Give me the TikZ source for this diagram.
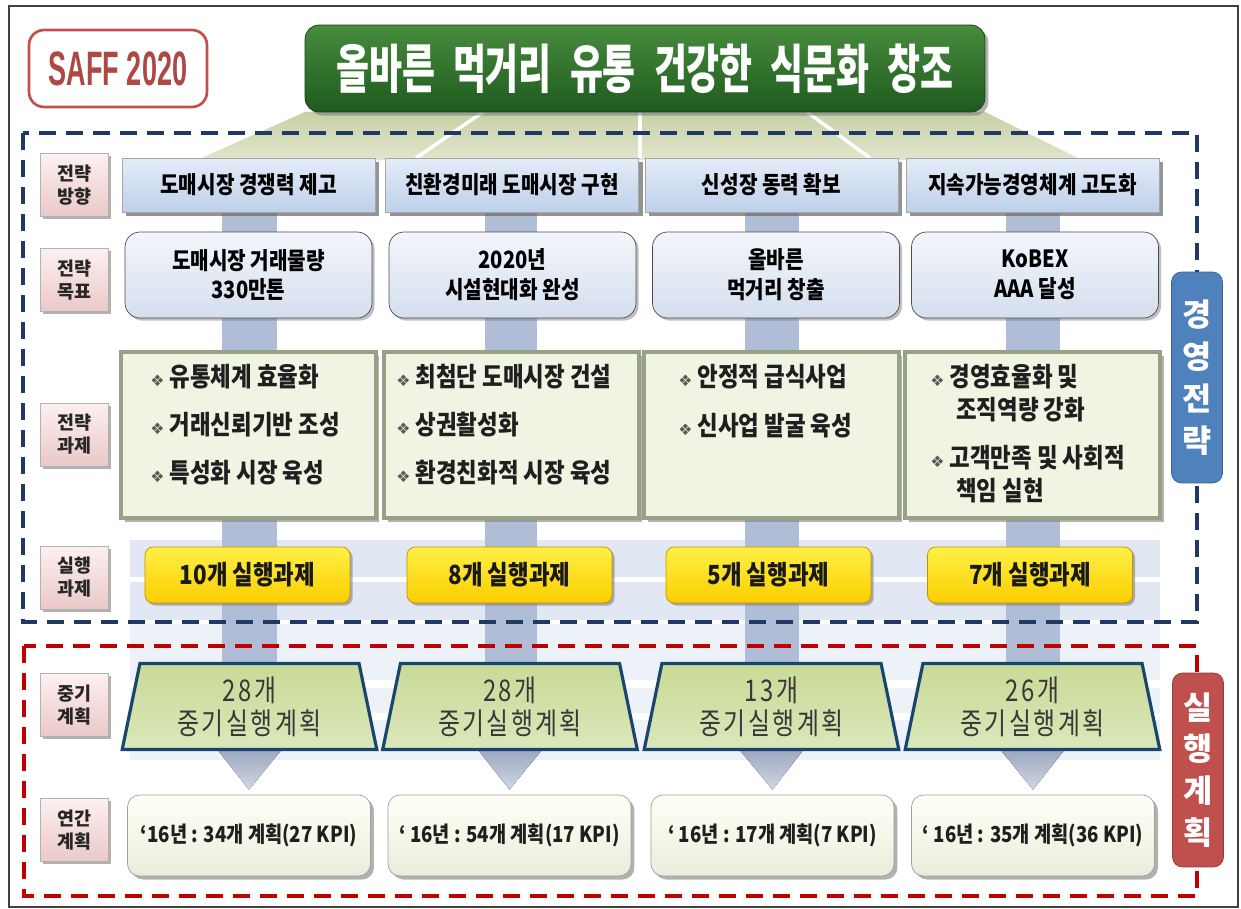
\documentclass[tikz,border=0pt]{standalone}
\usepackage{fontspec}
\usetikzlibrary{shapes.geometric,shadows,backgrounds}

\setmainfont{Noto Sans CJK KR}
\newfontfamily\krplain{Noto Sans CJK KR}
\newfontfamily\krfont{Noto Sans CJK KR}[FakeStretch=0.85]
\newfontfamily\krtitle{Noto Sans CJK KR}[FakeStretch=0.68,WordSpace=2.2]
\newfontfamily\krplan{Noto Sans CJK KR}[FakeStretch=0.8,LetterSpace=8]
\newfontfamily\saffont{Liberation Sans}[FakeStretch=0.56]
\newfontfamily\symfont{DejaVu Sans}
\newcommand{\dia}{{\symfont\fontsize{9}{9}\selectfont\color{black!65}❖}\ }

\definecolor{titlegreen}{RGB}{30,90,30}
\definecolor{titlegreenlt}{RGB}{72,140,62}
\definecolor{saffred}{RGB}{192,80,77}
\definecolor{navydash}{RGB}{31,56,100}
\definecolor{reddash}{RGB}{192,0,0}
\definecolor{fanolive}{RGB}{200,208,165}
\definecolor{fanlight}{RGB}{224,230,204}
\definecolor{headblue}{RGB}{190,208,234}
\definecolor{headbluelt}{RGB}{228,236,247}
\definecolor{goalblue}{RGB}{212,223,238}
\definecolor{goalbluelt}{RGB}{243,246,251}
\definecolor{taskfill}{RGB}{240,244,226}
\definecolor{taskedge}{RGB}{152,160,134}
\definecolor{btnyellow}{RGB}{250,206,0}
\definecolor{btnyellowlt}{RGB}{255,240,70}
\definecolor{btnedge}{RGB}{196,145,0}
\definecolor{planfill}{RGB}{200,218,150}
\definecolor{planedge}{RGB}{25,70,110}
\definecolor{yearfill}{RGB}{255,255,246}
\definecolor{yearfilldk}{RGB}{236,236,220}
\definecolor{labelpink}{RGB}{234,200,200}
\definecolor{labelpinklt}{RGB}{253,240,240}
\definecolor{barblue}{RGB}{176,189,214}
\definecolor{bandblue}{RGB}{225,232,243}
\definecolor{tagblue}{RGB}{79,129,189}
\definecolor{tagred}{RGB}{192,80,77}

\begin{document}
\begin{tikzpicture}[x=0.02cm,y=-0.02cm,
  lbl/.style={draw=gray!60, top color=labelpinklt, bottom color=labelpink, minimum width=1.36cm, minimum height=1.26cm, align=center, inner sep=0pt, text=black!85, font=\krplain\bfseries\fontsize{10.5}{13}\selectfont, drop shadow={shadow xshift=1.5pt, shadow yshift=-1.5pt, fill=gray, opacity=.6}},
  head/.style={draw=gray!70, top color=headbluelt, bottom color=headblue, minimum width=5.06cm, minimum height=1.08cm, inner sep=0pt, font=\krfont\bfseries\fontsize{13.5}{15}\selectfont, drop shadow={shadow xshift=2.5pt, shadow yshift=-2.5pt, fill=black!60, opacity=.7}},
  goal/.style={draw=black!70, rounded corners=0.3cm, top color=goalbluelt, bottom color=goalblue, minimum width=4.94cm, minimum height=1.72cm, align=center, inner sep=0pt, font=\krfont\bfseries\fontsize{13.5}{17}\selectfont, drop shadow={shadow xshift=1.5pt, shadow yshift=-1.5pt, fill=gray, opacity=.5}},
  taskbox/.style={draw=taskedge, line width=2pt, fill=taskfill, minimum width=5.1cm, minimum height=3.32cm, drop shadow={shadow xshift=2pt, shadow yshift=-2pt, fill=gray, opacity=.6}},
  tasktxt/.style={anchor=west, inner sep=0pt, text=black!88, font=\krfont\bfseries\fontsize{15}{17}\selectfont},
  btn/.style={draw=btnedge, rounded corners=0.16cm, top color=btnyellowlt, bottom color=btnyellow, minimum width=4.1cm, minimum height=1.12cm, inner sep=0pt, text=black!90, font=\krfont\bfseries\fontsize{15}{16}\selectfont, drop shadow={shadow xshift=1.5pt, shadow yshift=-1.5pt, fill=gray, opacity=.6}},
  plan/.style={trapezium, trapezium stretches=true, trapezium left angle=79, trapezium right angle=79, draw=planedge, line width=1.8pt, top color=planfill, bottom color=planfill!65!white, minimum width=5.1cm, minimum height=1.72cm, align=center, inner sep=0pt, text=black!78, font=\krplan\fontsize{17}{18.7}\selectfont},
  year/.style={draw=gray!75, rounded corners=0.24cm, top color=yearfill, bottom color=yearfilldk, minimum width=4.86cm, minimum height=1.62cm, inner sep=0pt, text=black!88, font=\krfont\bfseries\fontsize{12.5}{15}\selectfont, drop shadow={shadow xshift=2pt, shadow yshift=-2pt, fill=gray, opacity=.6}},
  tag/.style={rounded corners=0.2cm, minimum width=1.02cm, align=center, inner sep=0pt, text=white, font=\krplain\bfseries\fontsize{18}{23.8}\selectfont},
  bar/.style={fill=barblue},
  tri/.style={top color=barblue!90!black, bottom color=barblue!60!white}]
\useasboundingbox (0,0) rectangle (1241,909);
\draw[black!75, line width=0.8pt] (9,6) rectangle (1238,907);

\draw[navydash, line width=2.2pt, dash pattern=on 0.34cm off 0.2cm] (23,133) rectangle (1197,622);
\draw[reddash, line width=2.2pt, dash pattern=on 0.34cm off 0.2cm] (24,646) rectangle (1197,896);

\node[draw=saffred, line width=1.5pt, rounded corners=0.3cm, fill=white, minimum width=3.56cm, minimum height=1.54cm, text=saffred!90!black, font=\saffont\bfseries\fontsize{27.5}{30}\selectfont] (saff) at (118,68.5) {SAFF 2020};
\node[rounded corners=0.28cm, draw=titlegreen!70!black, top color=titlegreenlt, bottom color=titlegreen, minimum width=13.6cm, minimum height=1.74cm, text=white, font=\krtitle\bfseries\fontsize{30}{32}\selectfont, drop shadow={shadow xshift=2pt, shadow yshift=-2pt, fill=gray, opacity=.6}] (ttl) at (645,68.5) {올바른 먹거리 유통 건강한 식문화 창조};

\node[lbl] (l1) at (74,185) {전략\\방향};
\node[lbl] (l2) at (74,280) {전략\\목표};
\node[lbl] (l3) at (74,434.5) {전략\\과제};
\node[lbl] (l4) at (74,577.5) {실행\\과제};
\node[lbl] (l5) at (74,705) {중기\\계획};
\node[lbl] (l6) at (74,830) {연간\\계획};

\node[head] (h1) at (248.5,185) {도매시장 경쟁력 제고};
\node[head] (h2) at (512,185) {친환경미래 도매시장 구현};
\node[head] (h3) at (771.5,185) {신성장 동력 확보};
\node[head] (h4) at (1032.5,185) {지속가능경영체계 고도화};

\node[goal] (g1) at (248.5,275) {도매시장 거래물량\\330만톤};
\node[goal] (g2) at (512.5,275) {2020년\\시설현대화 완성};
\node[goal] (g3) at (776,275) {올바른\\먹거리 창출};
\node[goal] (g4) at (1035,275) {KoBEX\\AAA 달성};

\node[taskbox] (k1) at (248.5,435) {};
\node[taskbox] (k2) at (511.5,435) {};
\node[taskbox] (k3) at (771.5,435) {};
\node[taskbox] (k4) at (1032.5,435) {};

\node[tasktxt] (t1a) at (150,377) {\dia 유통체계 효율화};
\node[tasktxt] (t1b) at (150,425) {\dia 거래신뢰기반 조성};
\node[tasktxt] (t1c) at (150,473) {\dia 특성화 시장 육성};
\node[tasktxt] (t2a) at (396,377) {\dia 최첨단 도매시장 건설};
\node[tasktxt] (t2b) at (396,425) {\dia 상권활성화};
\node[tasktxt] (t2c) at (396,473) {\dia 환경친화적 시장 육성};
\node[tasktxt] (t3a) at (678,377) {\dia 안정적 급식사업};
\node[tasktxt] (t3b) at (678,426) {\dia 신사업 발굴 육성};
\node[tasktxt] (t4a) at (930,377) {\dia 경영효율화 및};
\node[tasktxt] (t4b) at (956,410) {조직역량 강화};
\node[tasktxt] (t4c) at (930,458) {\dia 고객만족 및 사회적};
\node[tasktxt] (t4d) at (956,491) {책임 실현};

\node[btn] (b1) at (247.5,575) {10개 실행과제};
\node[btn] (b2) at (509.5,575) {8개 실행과제};
\node[btn] (b3) at (768.5,575) {5개 실행과제};
\node[btn] (b4) at (1030,575) {7개 실행과제};

\node[plan] (m1) at (249.5,706.5) {28개\\중기실행계획};
\node[plan] (m2) at (510,706.5) {28개\\중기실행계획};
\node[plan] (m3) at (771.5,706.5) {13개\\중기실행계획};
\node[plan] (m4) at (1032.5,706.5) {26개\\중기실행계획};

\node[year] (y1) at (249,835.5) {‘16년 : 34개 계획(27 KPI)};
\node[year] (y2) at (509.5,835.5) {‘ 16년 : 54개 계획(17 KPI)};
\node[year] (y3) at (772.5,835.5) {‘ 16년 : 17개 계획(7 KPI)};
\node[year] (y4) at (1033,835.5) {‘ 16년 : 35개 계획(36 KPI)};

\node[tag, fill=tagblue, draw=tagblue!75!black, minimum height=4.22cm] (strat) at (1197,377.5) {경\\영\\전\\략};
\node[tag, fill=tagred, draw=tagred!75!black, minimum height=3.88cm] (exec) at (1198,770) {실\\행\\계\\획};

\begin{scope}[on background layer]
\fill[white] (0,0) rectangle (1241,909);
\shade[top color=fanolive, bottom color=fanlight] (305,112) -- (985,112) -- (1082,160) -- (197,160) -- cycle;
\draw[white, line width=2pt] (483,112) -- (416,158);
\draw[white, line width=2pt] (640,112) -- (640,158);
\draw[white, line width=2pt] (807,112) -- (870,158);
\fill[bandblue] (130,540) rectangle (1160,620);
\fill[white] (130,577) rectangle (1160,582);
\fill[bandblue!60] (130,624) rectangle (1160,760);
\fill[white] (130,680) rectangle (1160,688);
\fill[white] (130,713) rectangle (1160,720);
\fill[bar] ([xshift=-0.54cm]h1.south) rectangle ([xshift=0.54cm]m1.north);
\fill[bar] ([xshift=-0.54cm]h2.south) rectangle ([xshift=0.54cm]m2.north);
\fill[bar] ([xshift=-0.54cm]h3.south) rectangle ([xshift=0.54cm]m3.north);
\fill[bar] ([xshift=-0.54cm]h4.south) rectangle ([xshift=0.54cm]m4.north);
\fill[tri] ([xshift=-0.62cm]m1.south) -- ([xshift=0.62cm]m1.south) -- ([yshift=0.1cm]y1.north) -- cycle;
\fill[tri] ([xshift=-0.62cm]m2.south) -- ([xshift=0.62cm]m2.south) -- ([yshift=0.1cm]y2.north) -- cycle;
\fill[tri] ([xshift=-0.62cm]m3.south) -- ([xshift=0.62cm]m3.south) -- ([yshift=0.1cm]y3.north) -- cycle;
\fill[tri] ([xshift=-0.62cm]m4.south) -- ([xshift=0.62cm]m4.south) -- ([yshift=0.1cm]y4.north) -- cycle;
\end{scope}
\end{tikzpicture}
\end{document}
